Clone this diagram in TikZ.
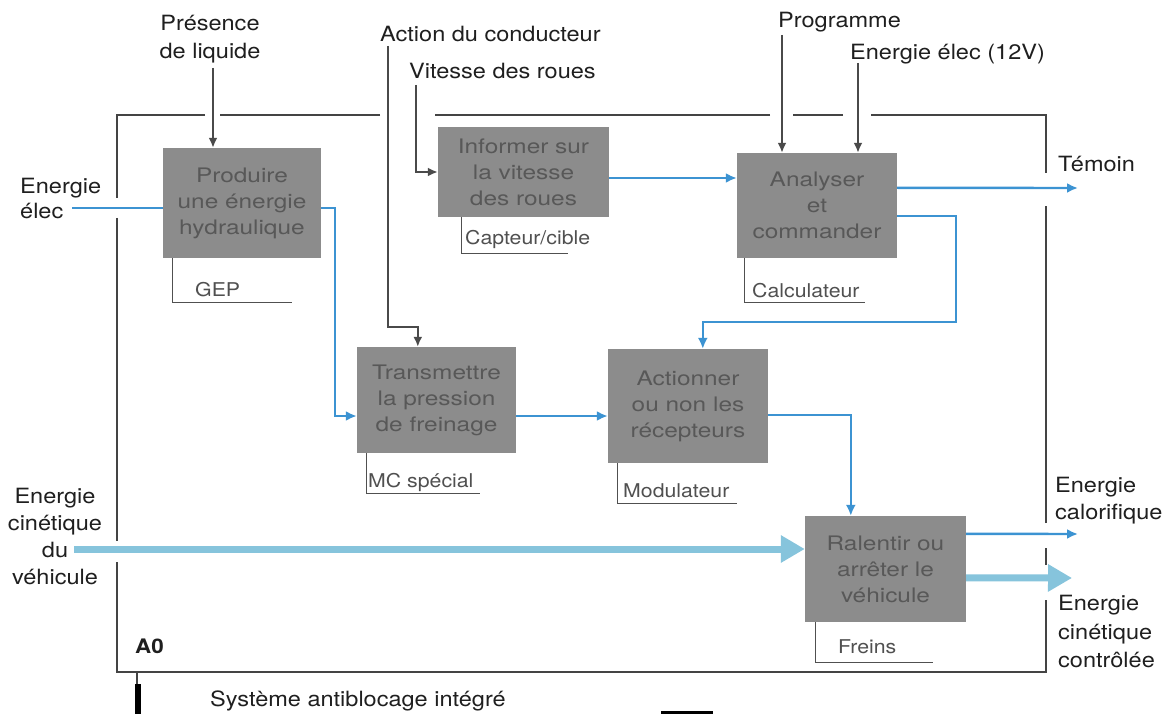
\documentclass[tikz,border=0pt]{standalone}
\usepackage{fontspec}
\setmainfont{TeX Gyre Heros}[FakeStretch=1.12]
\newfontfamily\boxfont{TeX Gyre Heros}[FakeStretch=1.22]
\usetikzlibrary{arrows.meta}

\definecolor{framecol}{HTML}{444444}
\definecolor{boxfill}{HTML}{8C8C8C}
\definecolor{boxtext}{HTML}{585858}
\definecolor{flow}{HTML}{3C93D2}
\definecolor{bigflow}{HTML}{86C4DC}
\definecolor{ctrl}{HTML}{4A4A4A}
\definecolor{mech}{HTML}{505050}

\tikzset{
  fn/.style={fill=boxfill, text=boxtext, font=\boxfont\fontsize{20}{26}\selectfont,
    align=center, inner sep=0pt},
  lbl/.style={font=\fontsize{21}{28}\selectfont, inner sep=0pt, text=black!88},
  mechlbl/.style={font=\fontsize{19}{24}\selectfont, text=mech, inner sep=0pt, anchor=base west},
  ctrlarrow/.style={draw=ctrl, line width=2pt, -{Latex[length=10pt,width=9pt]}},
  flowline/.style={draw=flow, line width=2.4pt},
  flowarrow/.style={flowline, -{Latex[length=11pt,width=10pt]}},
  bigarrow/.style={draw=bigflow, line width=7pt, -{Triangle[length=24pt,width=26pt]}},
  framel/.style={draw=framecol, line width=1.2pt},
  mechl/.style={draw=mech, line width=1.2pt}
}

\begin{document}
\begin{tikzpicture}[x=1pt, y=-1pt]
\fill[white] (0,0) rectangle (1173,714);
\useasboundingbox (0,0) rectangle (1173,714);

% system boundary (A0) with openings where the flows cross it
\draw[framel] (205,115) -- (117,115) -- (117,198);
\draw[framel] (117,218) -- (117,541);
\draw[framel] (117,562) -- (117,672) -- (1046,672) -- (1046,600);
\draw[framel] (1046,565) -- (1046,548);
\draw[framel] (1046,523) -- (1046,206);
\draw[framel] (1046,173) -- (1046,115) -- (871,115);
\draw[framel] (843,115) -- (793,115);
\draw[framel] (770,115) -- (435,115);
\draw[framel] (380,115) -- (220,115);

% functions
\node[fn, minimum width=158pt, minimum height=110pt] (b1) at (242,203) {Produire\\une énergie\\hydraulique};
\node[fn, minimum width=171pt, minimum height=90pt]  (b2) at (523.5,172) {Informer sur\\la vitesse\\des roues};
\node[fn, minimum width=160pt, minimum height=105pt] (b3) at (817,205.5) {Analyser\\et\\commander};
\node[fn, minimum width=159pt, minimum height=106pt] (b4) at (436.5,400) {Transmettre\\la pression\\de freinage};
\node[fn, minimum width=160pt, minimum height=114pt] (b5) at (688,406) {Actionner\\ou non les\\récepteurs};
\node[fn, minimum width=161pt, minimum height=106pt] (b6) at (885.5,569) {Ralentir ou\\arrêter le\\véhicule};

% supports
\draw[mechl] ([xshift=10pt]b1.south west) -- ++(0,44) -- ++(119,0);
\node[mechlbl] (m1) at (195,296) {GEP};
\draw[mechl] ([xshift=24pt]b2.south west) -- ++(0,36) -- ++(106,0);
\node[mechlbl] (m2) at (465,244) {Capteur/cible};
\draw[mechl] ([xshift=8pt]b3.south west) -- ++(0,44) -- ++(120,0);
\node[mechlbl] (m3) at (752,297) {Calculateur};
\draw[mechl] ([xshift=10pt]b4.south west) -- ++(0,40) -- ++(113,0);
\node[mechlbl] (m4) at (368,487) {MC spécial};
\draw[mechl] ([xshift=10pt]b5.south west) -- ++(0,40) -- ++(119,0);
\node[mechlbl] (m5) at (623,497) {Modulateur};
\draw[mechl] ([xshift=11pt]b6.south west) -- ++(0,40) -- ++(117,0);
\node[mechlbl] (m6) at (838,653) {Freins};

% outside labels
\node[lbl, anchor=north, align=center, font=\fontsize{21}{28}\selectfont] (tpl) at (210,15) {Présence\\de liquide};
\node[lbl, anchor=base west] (tac) at (380,42) {Action du conducteur};
\node[lbl, anchor=base west] (tvr) at (409,79) {Vitesse des roues};
\node[lbl, anchor=base west] (tpg) at (778,28) {Programme};
\node[lbl, anchor=base west] (tev) at (850,60) {Energie élec (12V)};
\node[lbl, anchor=base west] (ttm) at (1058,172) {Témoin};
\node[lbl, anchor=north west, align=left, font=\fontsize{21}{25}\selectfont] (tee) at (20,178) {Energie\\élec};
\node[lbl, anchor=north, align=center, font=\fontsize{21}{27}\selectfont] (tek) at (55,488) {Energie\\cinétique\\du\\véhicule};
\node[lbl, anchor=north west, align=left, font=\fontsize{21}{27}\selectfont] (tca) at (1055,477) {Energie\\calorifique};
\node[lbl, anchor=north west, align=left, font=\fontsize{21}{28.5}\selectfont] (tco) at (1058,595) {Energie\\cinétique\\contrôlée};
\node[lbl, anchor=base west, font=\bfseries\fontsize{20}{24}\selectfont] (ta0) at (135,653) {A0};
\node[lbl, anchor=base west] (tsy) at (210,706) {Système antiblocage intégré};

% diagram reference marks
\draw[framel] (137,672) -- (137,684);
\fill[black] (135,684) rectangle (141,714);
\fill[black] (661,711) rectangle (713,714);

% free ends of the boundary flows
\coordinate (pl) at (213,68);
\coordinate (ac) at (388,46);
\coordinate (vr) at (416,85);
\coordinate (pg) at (782,35);
\coordinate (ev) at (858,63);
\coordinate (inE) at (72,208);
\coordinate (inK) at (74,549);
\coordinate (outT) at (1078,188);
\coordinate (outC) at (1078,534);
\coordinate (outK) at (1072,578);

% controls
\draw[ctrlarrow] (pl) -- (pl |- b1.north);
\draw[ctrlarrow] (ac) -- ++(0,281) -| ([xshift=61pt]b4.north west);
\draw[ctrlarrow] (vr) |- (b2.west);
\draw[ctrlarrow] (pg) -- (pg |- b3.north);
\draw[ctrlarrow] (ev) -- (ev |- b3.north);

% flows
\draw[flowline] (inE) -- (inE -| b1.west);
\draw[flowarrow] ([yshift=-5pt]b1.east) -- ++(14,0) |- ([yshift=-16pt]b4.west);
\draw[flowarrow] ([yshift=-6pt]b2.east) -- ([yshift=-6pt]b2.east -| b3.west);
\draw[flowarrow] ([yshift=-35pt]b3.north east) -- (outT);
\draw[flowarrow] ([yshift=-63pt]b3.north east) -- ++(59,0) -- ++(0,106) -| ([xshift=95pt]b5.north west);
\draw[flowarrow] ([yshift=-16pt]b4.east) -- ([yshift=-16pt]b4.east -| b5.west);
\draw[flowarrow] ([yshift=-9pt]b5.east) -| ([xshift=46pt]b6.north west);
\draw[flowarrow] ([yshift=-18pt]b6.north east) -- (outC);
\draw[bigarrow] (inK) -- (inK -| b6.west);
\draw[bigarrow] ([yshift=-62pt]b6.north east) -- (outK);
\end{tikzpicture}
\end{document}
